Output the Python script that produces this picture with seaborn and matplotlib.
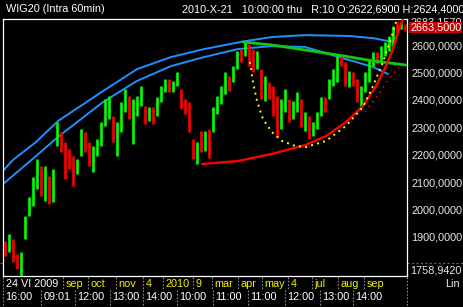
import numpy as np
import pandas as pd
import matplotlib
matplotlib.use("Agg")
import matplotlib.pyplot as plt
import matplotlib.transforms as mtransforms
import seaborn as sns

# ---------------- data ----------------
bar_low = [1832, 1844, 1808, 1783, 1759, 1893, 1978, 2014, 2075, 2051, 2032, 2020, 2026, 2233, 2209, 2111, 2148, 2087, 2130, 2196, 2209, 2160, 2136, 2196, 2233,
           2306, 2330, 2245, 2196, 2282, 2354, 2330, 2239, 2342, 2379, 2312, 2324, 2312, 2342, 2391, 2427, 2427, 2427, 2452, 2367, 2348, 2282, 2184, 2166, 2209,
           2215, 2187, 2282, 2348, 2385, 2421, 2433, 2464, 2512, 2537, 2561, 2525, 2500, 2512, 2403, 2397, 2403, 2342, 2263, 2294, 2354, 2318, 2330, 2354, 2300,
           2288, 2257, 2269, 2294, 2342, 2354, 2403, 2452, 2464, 2525, 2452, 2446, 2452, 2391, 2379, 2427, 2464, 2525, 2531, 2537, 2561, 2579, 2598, 2646, 2658, 2652]
bar_high = [1887, 1911, 1893, 1838, 1844, 1978, 2045, 2118, 2184, 2160, 2160, 2124, 2148, 2318, 2282, 2245, 2221, 2196, 2184, 2294, 2282, 2245, 2233, 2257, 2318,
            2403, 2415, 2342, 2318, 2391, 2440, 2415, 2403, 2415, 2452, 2379, 2373, 2373, 2409, 2452, 2476, 2476, 2470, 2500, 2440, 2403, 2391, 2257, 2245, 2288,
            2288, 2294, 2373, 2415, 2452, 2500, 2488, 2525, 2579, 2585, 2616, 2604, 2585, 2579, 2512, 2488, 2464, 2452, 2415, 2403, 2440, 2403, 2397, 2427, 2403,
            2354, 2342, 2318, 2354, 2409, 2409, 2476, 2512, 2561, 2561, 2537, 2506, 2500, 2476, 2452, 2500, 2549, 2573, 2573, 2598, 2610, 2634, 2670, 2683, 2683, 2676]
bar_close = [1850, 1880, 1820, 1800, 1835, 1965, 2030, 2040, 2150, 2080, 2130, 2040, 2130, 2280, 2230, 2200, 2190, 2120, 2170, 2260, 2230, 2190, 2210, 2250, 2300,
             2330, 2390, 2280, 2300, 2370, 2400, 2350, 2380, 2400, 2420, 2330, 2350, 2330, 2380, 2440, 2450, 2440, 2460, 2470, 2420, 2380, 2300, 2200, 2230, 2220,
             2260, 2200, 2350, 2400, 2440, 2470, 2450, 2510, 2560, 2550, 2590, 2560, 2520, 2560, 2430, 2460, 2420, 2370, 2280, 2380, 2420, 2340, 2380, 2400, 2320,
             2330, 2280, 2300, 2340, 2390, 2370, 2460, 2500, 2540, 2535, 2470, 2490, 2470, 2400, 2440, 2490, 2540, 2550, 2545, 2580, 2600, 2620, 2660, 2655, 2670, 2663.5]

# trend lines (bar index, price)
blue_up_x = [-0.5, 2, 7.75, 13.25, 24.5, 33, 41.5, 49.75, 60, 66.75, 75, 86, 92, 97]
blue_up_y = [2141, 2181, 2246, 2323, 2432, 2512, 2556, 2585, 2614, 2629, 2636, 2633, 2625, 2611]
blue_lo_x = [-0.5, 7.75, 13.25, 24.5, 33, 41.5, 49.75, 58.25, 66.75, 75, 83.5, 92, 95.75]
blue_lo_y = [2093, 2195, 2265, 2392, 2469, 2523, 2556, 2585, 2596, 2593, 2556, 2520, 2494]
green_x = [59.5, 66.75, 75, 83.5, 92, 100.25]
green_y = [2611, 2600, 2582, 2563, 2542, 2527]
red_x = [49.25, 58.25, 66.75, 75, 80.25, 85.25, 89.5, 92.75, 95.25, 97, 98.5, 99.5]
red_y = [2166, 2177, 2203, 2235, 2268, 2319, 2378, 2450, 2523, 2585, 2658, 2695]
red_dot_x = [90, 93.25, 95.75, 98.25, 100.25]
red_dot_y = [2356, 2418, 2472, 2516, 2545]
yellow_x = [61.25, 62, 63, 64.5, 66.75, 69.25, 72.5, 75.25, 80.25, 85.25, 89.5, 92, 94.5, 97, 97.75]
yellow_y = [2538, 2465, 2396, 2330, 2282, 2250, 2232, 2228, 2250, 2305, 2374, 2450, 2538, 2647, 2684]

price_ticks = [1900, 2000, 2100, 2200, 2300, 2400, 2500, 2600]
price_last = 2663.5
price_top = 2683.157
price_min = 1758.942
alert_level = 1805

month_ticks = [-0.5, 14.5, 20.75, 27.75, 34.5, 39.5, 47, 51.75, 58.25, 64.25, 70.75, 76.75, 83.25, 89.75]
month_labels = ["24 VI 2009", "sep", "oct", "nov", "4", "2010", "9", "mar", "apr", "may", "4", "jul", "aug", "sep"]
time_ticks = [-0.5, 9, 17.5, 26.25, 34.5, 43, 52, 60.75, 70, 78.75, 87]
time_labels = ["16:00", "09:01", "12:00", "13:00", "14:00", "10:00", "11:00", "11:00", "12:00", "13:00", "14:00"]

title_left = "WIG20 (Intra 60min)"
title_right = "2010-X-21   10:00:00 thu   R:10 O:2622,6900 H:2624,4000 L:2616,5000"

# ---------------- style ----------------
sns.set_theme(style="dark", rc={"axes.facecolor": "black", "figure.facecolor": "black",
                                "axes.grid": False})
plt.rcParams['font.family'] = ['Liberation Sans', 'DejaVu Sans']

W, H = 463, 307
fig = plt.figure(figsize=(W / 100, H / 100), dpi=100, facecolor='black')
ax = fig.add_axes([3 / W, 31 / H, 404 / W, 257 / H])
ax.set_facecolor('black')

n = len(bar_low)
idx = np.arange(n)
df = pd.DataFrame({"k": idx, "low": bar_low, "high": bar_high, "close": bar_close})
prev = df["close"].shift(1).fillna((df["low"] + df["high"]) / 2)
df["up"] = df["close"] >= prev

# trend lines behind bars
sns.lineplot(x=blue_up_x, y=blue_up_y, ax=ax, color='#1E90FF', lw=1.4, sort=False, estimator=None, zorder=2)
sns.lineplot(x=blue_lo_x, y=blue_lo_y, ax=ax, color='#1E90FF', lw=1.4, sort=False, estimator=None, zorder=2)

colors = np.where(df["up"], '#00FF00', '#FF0000')
ax.vlines(df["k"], df["low"], df["high"], colors=colors, lw=1.9, zorder=3)

sns.lineplot(x=green_x, y=green_y, ax=ax, color='#12C812', lw=2.0, sort=False, estimator=None, zorder=4)
sns.lineplot(x=red_x, y=red_y, ax=ax, color='#FF0000', lw=1.7, sort=False, estimator=None, zorder=5)
sns.lineplot(x=red_dot_x, y=red_dot_y, ax=ax, color='#FF0000', lw=1.1, ls=(0, (1, 3)), sort=False, estimator=None, zorder=5)
sns.lineplot(x=yellow_x, y=yellow_y, ax=ax, color='#FFFF00', lw=1.4, ls=(0, (1, 2.2)), sort=False, estimator=None, zorder=6)

ax.set_xlim(-0.5, 100.5)
ax.set_ylim(1757.8, 2694.8)
ax.set_xlabel("")
ax.set_ylabel("")
ax.set_xticks([])

ax.yaxis.tick_right()
ax.set_yticks(price_ticks)
ax.set_yticklabels([f"{v:.4f}".replace('.', ',') for v in price_ticks])
ax.tick_params(axis='y', length=0, pad=3, colors='#E8E8E8', labelsize=7.8)
for sp in ax.spines.values():
    sp.set_color('white')
    sp.set_linewidth(0.9)
    sp.set_visible(True)

fs = 7.8
px = fig.dpi_scale_trans
off_r = mtransforms.ScaledTranslation(3 / 100, 0, px)
tr_r = mtransforms.blended_transform_factory(ax.transAxes, ax.transData) + off_r
ax.text(1.0, price_top, f"{price_top:.4f}".replace('.', ','), transform=tr_r, color='#E8E8E8',
        fontsize=fs, va='center', ha='left', clip_on=False, zorder=1)
ax.text(1.0, price_last, f"{price_last:.4f}".replace('.', ','), transform=tr_r, color='white',
        fontsize=fs, va='center', ha='left', clip_on=False, zorder=10,
        bbox=dict(facecolor='#CC0000', edgecolor='none', pad=0.6))
ax.text(1.0, price_min, f"{price_min:.4f}".replace('.', ','), transform=tr_r, color='#E8E8E8',
        fontsize=fs, va='bottom', ha='left', clip_on=False)
fig.text(460 / W, 1 - 284 / H, "Lin", color='#E8E8E8', fontsize=fs, ha='right', va='center')

# alert dashed level outside plot
tr_h = mtransforms.blended_transform_factory(ax.transAxes, ax.transData)
ax.plot([1.0, 460 / 404 + 0.01], [alert_level, alert_level], transform=tr_h, color='#FF2020',
        lw=0.8, ls=(0, (2, 2)), clip_on=False)
ax.plot([-3 / 404, 0], [alert_level, alert_level], transform=tr_h, color='#FF2020',
        lw=0.8, ls=(0, (2, 2)), clip_on=False)

# bottom date/time axis
tr_x = mtransforms.blended_transform_factory(ax.transData, ax.transAxes)
off_t = mtransforms.ScaledTranslation(2.5 / 100, 0, px)
r1_top, r1_bot = -1 / 257, -14 / 257
r2_top, r2_bot = -14 / 257, -31 / 257
for k, lab in zip(month_ticks, month_labels):
    ax.plot([k, k], [r1_top, r1_bot], transform=tr_x, color='#8A8A8A', lw=0.8, ls=(0, (1.5, 1.5)), clip_on=False)
    ax.text(k, -8 / 257, lab, transform=tr_x + off_t, color='white' if lab.startswith("24") else '#F0F000',
            fontsize=fs, ha='left', va='center', clip_on=False)
for k, lab in zip(time_ticks, time_labels):
    ax.plot([k, k], [r2_top, r2_bot], transform=tr_x, color='#8A8A8A', lw=0.8, ls=(0, (1.5, 1.5)), clip_on=False)
    ax.text(k, -21 / 257, lab, transform=tr_x + off_t, color='white',
            fontsize=fs, ha='left', va='center', clip_on=False)
ax.plot([100.5, 100.5], [r1_top, r2_bot], transform=tr_x, color='#8A8A8A', lw=0.8, ls=(0, (1.5, 1.5)), clip_on=False)

# header
fig.text(6 / W, 1 - 9 / H, title_left, color='white', fontsize=fs, ha='left', va='center')
fig.text(182 / W, 1 - 9 / H, title_right, color='white', fontsize=fs, ha='left', va='center')

fig.savefig("out.png", dpi=100, facecolor='black')
